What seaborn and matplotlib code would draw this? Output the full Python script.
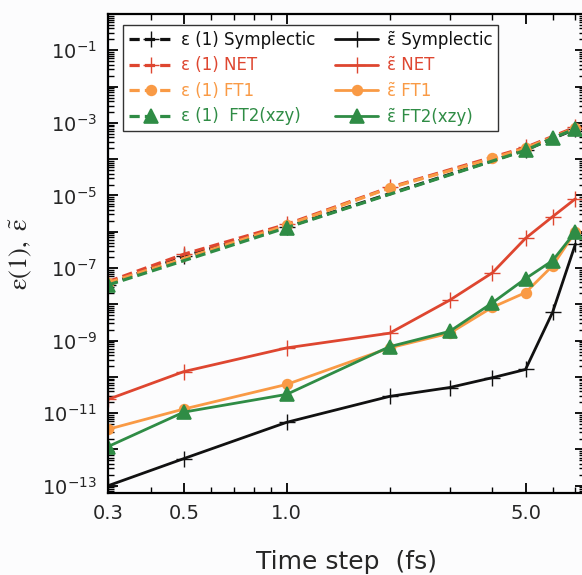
import numpy as np
import pandas as pd
import matplotlib
matplotlib.use('Agg')
import matplotlib.pyplot as plt
from matplotlib.ticker import FixedLocator, FuncFormatter, NullFormatter
import seaborn as sns

# time steps (fs)
steps = [0.3, 0.5, 1.0, 2.0, 3.0, 4.0, 5.0, 6.0, 7.0]

# eps(1) curves, each sampled at its own steps
eps1_symp_x = [0.3, 0.5, 1.0, 5.0, 7.0]
eps1_symp = [3.5e-8, 2.1e-7, 1.35e-6, 1.8e-4, 6.8e-4]
eps1_net_x = [0.3, 0.5, 1.0, 2.0, 5.0, 7.0]
eps1_net = [4.2e-8, 2.4e-7, 1.6e-6, 1.66e-5, 2.1e-4, 7.6e-4]
eps1_ft1_x = [0.3, 1.0, 2.0, 4.0, 5.0, 7.0]
eps1_ft1 = [3.9e-8, 1.5e-6, 1.6e-5, 1.05e-4, 2.0e-4, 7.1e-4]
eps1_ft2_x = [0.3, 1.0, 5.0, 6.0, 7.0]
eps1_ft2 = [3.4e-8, 1.3e-6, 1.75e-4, 3.8e-4, 6.9e-4]

# eps tilde curves
epst_symp = [1.0e-13, 5.6e-13, 5.6e-12, 2.9e-11, 5.1e-11, 9.5e-11, 1.6e-10, 6.0e-9, 4.6e-7]
epst_net = [2.4e-11, 1.4e-10, 6.3e-10, 1.6e-9, 1.3e-8, 7.4e-8, 6.6e-7, 2.6e-6, 8.1e-6]
epst_ft1 = [3.6e-12, 1.3e-11, 6.2e-11, 6.3e-10, 1.6e-9, 8.3e-9, 2.1e-8, 1.15e-7, 1.0e-6]
epst_ft2 = [1.2e-12, 1.07e-11, 3.3e-11, 6.8e-10, 1.8e-9, 1.1e-8, 5.1e-8, 1.6e-7, 1.0e-6]

x_ticks = [0.3, 0.5, 1.0, 5.0]
x_ticklabels = ['0.3', '0.5', '1.0', '5.0']

black = '#111111'
red = '#de4630'
orange = '#f99a45'
green = '#2f8c45'

sns.set_style('ticks')
plt.rcParams['font.family'] = ['DejaVu Sans']

fig = plt.figure(figsize=(5.82, 5.75), dpi=100)
fig.patch.set_facecolor('#fcfcfd')
ax = fig.add_axes([0.1856, 0.1426, 0.8190, 0.8330])
ax.set_facecolor('#fcfcfd')

dash = (3.2, 1.6)
et = '\u03b5\u0303'
series = [
    (eps1_symp_x, eps1_symp, black, '+', 11, 'dash', '\u03b5 (1) Symplectic'),
    (eps1_net_x, eps1_net, red, '+', 11, 'dash', '\u03b5 (1) NET'),
    (eps1_ft1_x, eps1_ft1, orange, 'o', 7, 'dash', '\u03b5 (1) FT1'),
    (eps1_ft2_x, eps1_ft2, green, '^', 10, 'dash', '\u03b5 (1)  FT2(xzy)'),
    (steps, epst_symp, black, '+', 12, 'solid', et + ' Symplectic'),
    (steps, epst_net, red, '+', 12, 'solid', et + ' NET'),
    (steps, epst_ft1, orange, 'o', 7, 'solid', et + ' FT1'),
    (steps, epst_ft2, green, '^', 10, 'solid', et + ' FT2(xzy)'),
]

for xs, ys, col, mk, ms, style, lab in series:
    df = pd.DataFrame({'x': xs, 'y': ys})
    kw = dict(dashes=dash) if style == 'dash' else dict(linestyle='-')
    sns.lineplot(data=df, x='x', y='y', ax=ax, color=col, marker=mk,
                 markersize=ms, markeredgecolor=col,
                 markeredgewidth=1.0 if mk == '+' else 1.2,
                 linewidth=2.3 if style == 'dash' else 2.0, label=lab,
                 sort=False, estimator=None, **kw)

ax.set_xscale('log')
ax.set_yscale('log')
ax.set_xlim(0.3, 7.45)
ax.set_ylim(10 ** -13.2, 1.0)

ax.xaxis.set_major_locator(FixedLocator(x_ticks))
ax.xaxis.set_major_formatter(FuncFormatter(lambda v, p: x_ticklabels[x_ticks.index(v)] if v in x_ticks else ''))
ax.xaxis.set_minor_locator(FixedLocator([0.4, 0.6, 0.7, 0.8, 0.9, 2, 3, 4, 6, 7]))
ax.xaxis.set_minor_formatter(NullFormatter())

dec = [10.0 ** e for e in range(-13, 1)]
ax.yaxis.set_major_locator(FixedLocator(dec))
ax.yaxis.set_major_formatter(FuncFormatter(
    lambda v, p: (r'$10^{%d}$' % round(np.log10(v))) if round(np.log10(v)) % 2 else ''))
ax.yaxis.set_minor_locator(FixedLocator([m * 10.0 ** e for e in range(-14, 1) for m in range(2, 10)]))
ax.yaxis.set_minor_formatter(NullFormatter())

ax.tick_params(which='both', direction='in', top=True, right=True, color='black')
ax.tick_params(which='major', length=7, width=1.3, labelsize=14, pad=8)
ax.tick_params(which='minor', length=4, width=1.0)
for s in ax.spines.values():
    s.set_linewidth(1.6)
    s.set_color('black')

ax.set_xlabel('Time step  (fs)', fontsize=18, labelpad=19)
ax.set_ylabel(r'$\mathrm{\varepsilon(1),\ \tilde{\varepsilon}}$', fontsize=19, labelpad=6,
              math_fontfamily='stix')

leg = ax.legend(loc='upper left', bbox_to_anchor=(0.032, 0.977), borderaxespad=0,
                ncol=2, fontsize=12, handlelength=2.6, labelspacing=0.45,
                columnspacing=1.2, fancybox=False, framealpha=1, edgecolor='#333333',
                borderpad=0.35, handletextpad=0.5)
leg.get_frame().set_linewidth(1.0)
for t, (_, _, col, _, _, _, _) in zip(leg.get_texts(), series):
    t.set_color(col)

fig.savefig('out.png', dpi=100)
